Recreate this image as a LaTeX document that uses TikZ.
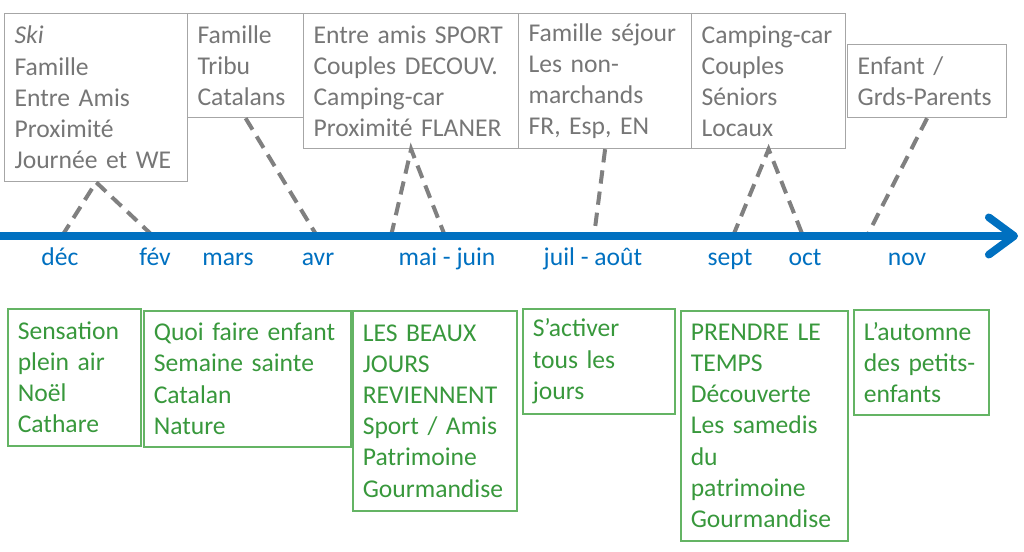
\documentclass[tikz,border=0pt]{standalone}
\usepackage{fontspec}
\setmainfont{Carlito}
\usetikzlibrary{arrows.meta}
\definecolor{axisblue}{RGB}{0,112,192}
\definecolor{cibgray}{RGB}{118,118,118}
\definecolor{cibframe}{RGB}{166,166,166}
\definecolor{dashgray}{RGB}{128,128,128}
\definecolor{themegreen}{RGB}{56,152,60}
\definecolor{themeframe}{RGB}{100,180,100}

\begin{document}
\begin{tikzpicture}[x=0.75pt,y=-0.75pt,
    every node/.style={font=\fontsize{19.2}{23.4}\selectfont},
    cible/.style={draw=cibframe,line width=0.9pt,text=cibgray,align=left,
      anchor=north west,inner xsep=7.5pt,inner ysep=0pt},
    theme/.style={draw=themeframe,line width=1.2pt,text=themegreen,align=left,
      anchor=north west,inner xsep=7.5pt,inner ysep=0pt},
    month/.style={text=axisblue,anchor=base},
    link/.style={draw=dashgray,line width=3pt,dash pattern=on 10pt off 6pt},
    axe/.style={draw=axisblue,line width=5.8pt,
      -{Straight Barb[length=19pt,width=28pt,line cap=round,line join=round]}}]
    \useasboundingbox (0,0) rectangle (1024,552);

    % cibles
    \node[cible,text width=122.25pt,minimum height=126pt] (ski) at (4,13)
      {\textit{Ski}\\Famille\\Entre Amis\\Proximité\\Journée et WE};
    \node[cible,text width=72pt,minimum height=78pt] (tribu) at (187,13)
      {Famille\\Tribu\\Catalans};
    \node[cible,text width=146.25pt,minimum height=101.25pt] (sport) at (303,13)
      {Entre amis SPORT\\Couples DECOUV.\\Camping-car\\Proximité FLANER};
    \node[cible,text width=114.75pt,minimum height=101.25pt] (sejour) at (518,13)
      {Famille séjour\\Les non-\\marchands\\FR, Esp, EN};
    \node[cible,text width=100.5pt,minimum height=101.25pt] (seniors) at (691,13)
      {Camping-car\\Couples\\Séniors\\Locaux};
    \node[cible,text width=104.25pt,minimum height=54.75pt] (grands) at (847,44)
      {Enfant /\\Grds-Parents};

    % axe des mois
    \coordinate (dec) at (62,236);  \coordinate (fev) at (153,236);
    \coordinate (avr) at (317,236); \coordinate (mai) at (391,236);
    \coordinate (juin) at (445,236); \coordinate (aout) at (594,236);
    \coordinate (sept) at (733,236); \coordinate (oct) at (803,236);
    \coordinate (nov) at (867,236);
    \coordinate (o) at (0,236); \coordinate (fin) at (1018,236);

    \draw[link] (dec) -- (ski.south) -- (fev);
    \draw[link] (tribu.south) -- (avr);
    \draw[link] (mai) -- (sport.south) -- (juin);
    \draw[link] (sejour.south) -- (aout);
    \draw[link] (sept) -- (seniors.south) -- (oct);
    \draw[link] (grands.south) -- (nov);
    \draw[axe] (o) -- (fin);

    \foreach \x/\m [count=\i] in {60/déc,155/fév,228/mars,318/avr,447/mai - juin,
        593/juil - août,730/sept,805/oct,907/nov}
      \node[month] (m\i) at (\x,266) {\m};

    % themes
    \node[theme,text width=84.75pt,minimum height=102.75pt] (plein) at (7,308)
      {Sensation\\plein air\\Noël\\Cathare};
    \node[theme,text width=140.25pt,minimum height=102pt] (enfant) at (143,310)
      {Quoi faire enfant\\Semaine sainte\\Catalan\\Nature};
    \node[theme,text width=108pt,minimum height=150pt] (beaux) at (352,310)
      {LES BEAUX\\JOURS\\REVIENNENT\\Sport / Amis\\Patrimoine\\Gourmandise};
    \node[theme,text width=99pt,minimum height=78.75pt] (activer) at (522,308)
      {S’activer\\tous les\\jours};
    \node[theme,text width=110.25pt,minimum height=172.5pt] (temps) at (680,310)
      {PRENDRE LE\\TEMPS\\Découverte\\Les samedis\\du\\patrimoine\\Gourmandise};
    \node[theme,text width=86.25pt,minimum height=78.75pt] (automne) at (853,309)
      {L’automne\\des petits-\\enfants};
\end{tikzpicture}
\end{document}
